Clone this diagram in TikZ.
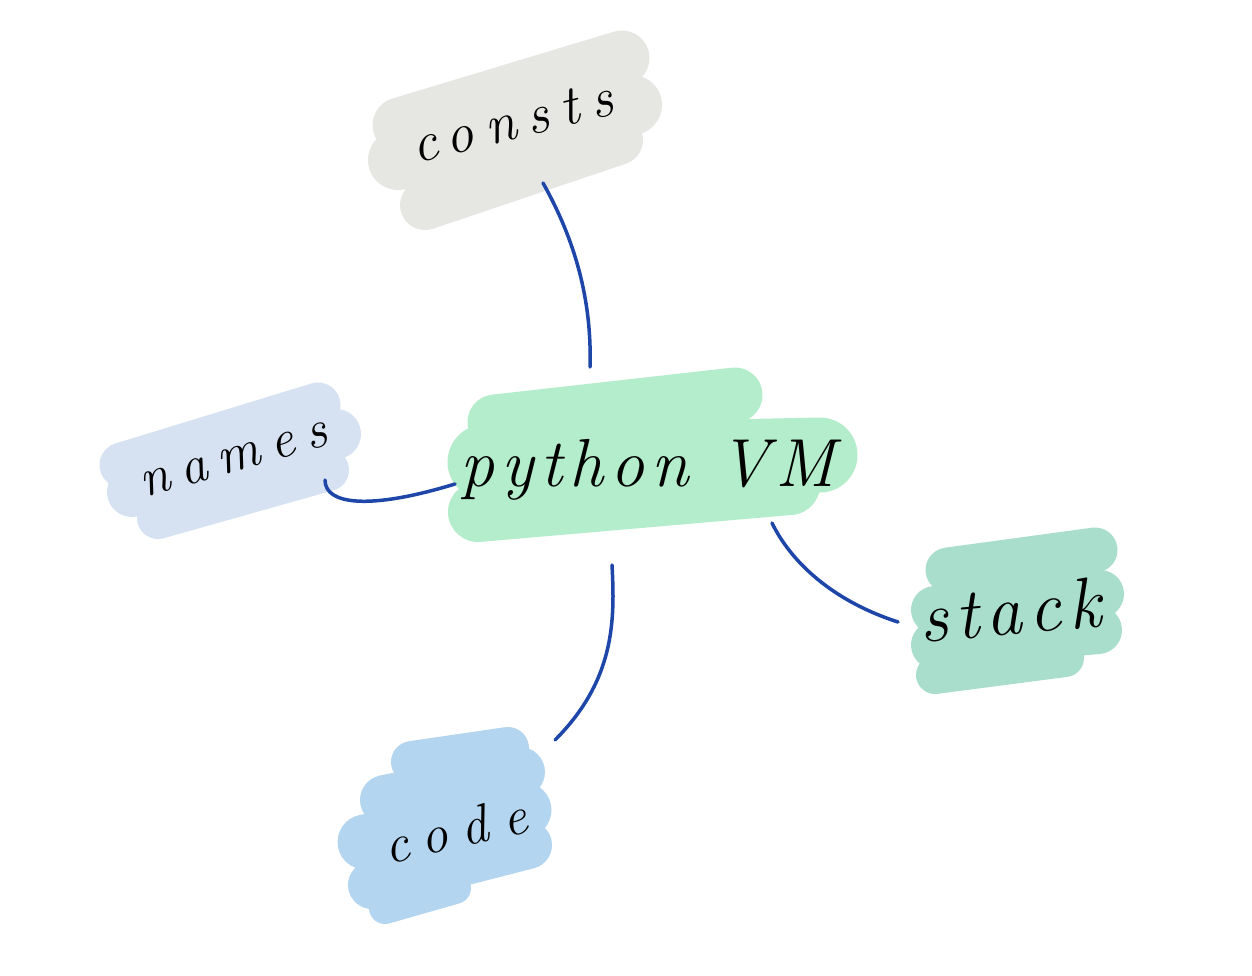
\documentclass[tikz,border=0pt]{standalone}
\usepackage{fontspec}
\setmainfont{Latin Modern Roman}
\newfontfamily\handfont[LetterSpace=10]{Latin Modern Roman}
\newfontfamily\widehandfont[LetterSpace=22]{Latin Modern Roman}
\newfontfamily\widerhandfont[LetterSpace=30]{Latin Modern Roman}
\definecolor{grayblob}{HTML}{E6E6E3}
\definecolor{greenblob}{HTML}{B4EDCB}
\definecolor{namesblob}{HTML}{D6E1F1}
\definecolor{stackblob}{HTML}{A9DDCC}
\definecolor{codeblob}{HTML}{B3D5EF}
\definecolor{wire}{HTML}{1E45A8}
\tikzset{
  brush/.style={line cap=round, line join=round, line width=#1},
  label/.style={inner sep=0pt, text=black},
  wirestyle/.style={draw=wire, line width=3.5pt, line cap=round}
}
\begin{document}
\begin{tikzpicture}[x=1pt,y=-1pt]
\path[use as bounding box, fill=white] (0,0) rectangle (1252,976);

% consts blob
\begin{scope}[draw=grayblob]
\draw[brush=55pt] (400,125) -- (622,58);
\draw[brush=60pt] (398,160) -- (632,105);
\draw[brush=50pt] (425,205) -- (618,140);
\end{scope}
% python VM blob
\begin{scope}[draw=greenblob]
\draw[brush=55pt] (495,422) -- (735,395);
\draw[brush=75pt] (485,462) -- (820,455);
\draw[brush=60pt] (478,512) -- (790,485);
\end{scope}
% names blob
\begin{scope}[draw=namesblob]
\draw[brush=45pt] (122,465) -- (318,405);
\draw[brush=50pt] (132,492) -- (336,434);
\draw[brush=42pt] (158,518) -- (328,470);
\end{scope}
% stack blob
\begin{scope}[draw=stackblob]
\draw[brush=45pt] (948,570) -- (1095,550);
\draw[brush=48pt] (935,610) -- (1100,594);
\draw[brush=48pt] (935,645) -- (1098,630);
\draw[brush=38pt] (935,675) -- (1065,658);
\end{scope}
% code blob
\begin{scope}[draw=codeblob]
\draw[brush=42pt] (412,762) -- (508,748);
\draw[brush=50pt] (385,800) -- (520,772);
\draw[brush=55pt] (365,842) -- (524,810);
\draw[brush=48pt] (372,885) -- (528,845);
\draw[brush=32pt] (385,908) -- (455,888);
\end{scope}

\node[label, font=\handfont\itshape\fontsize{68}{68}\selectfont] (vm) at (648,470) {python VM};
\node[label, font=\widehandfont\itshape\fontsize{56}{56}\selectfont, rotate=14] (consts) at (512,122) {consts};
\node[label, font=\widehandfont\itshape\fontsize{54}{54}\selectfont, rotate=16] (names) at (234,460) {names};
\node[label, font=\handfont\itshape\fontsize{72}{72}\selectfont, rotate=5] (stack) at (1010,610) {stack};
\node[label, font=\widerhandfont\itshape\fontsize{54}{54}\selectfont, rotate=13] (code) at (455,830) {code};

\coordinate (c1) at (543,183);
\coordinate (c2) at (590,367);
\coordinate (n1) at (325,480);
\coordinate (n2) at (455,484);
\coordinate (s1) at (772,523);
\coordinate (s2) at (898,622);
\coordinate (d1) at (612,565);
\coordinate (d2) at (555,740);

\draw[wirestyle] (c1) .. controls (575,240) and (592,300) .. (c2);
\draw[wirestyle] (n1) .. controls (325,505) and (370,510) .. (n2);
\draw[wirestyle] (s1) .. controls (790,560) and (830,600) .. (s2);
\draw[wirestyle] (d1) .. controls (615,620) and (615,680) .. (d2);
\end{tikzpicture}
\end{document}
